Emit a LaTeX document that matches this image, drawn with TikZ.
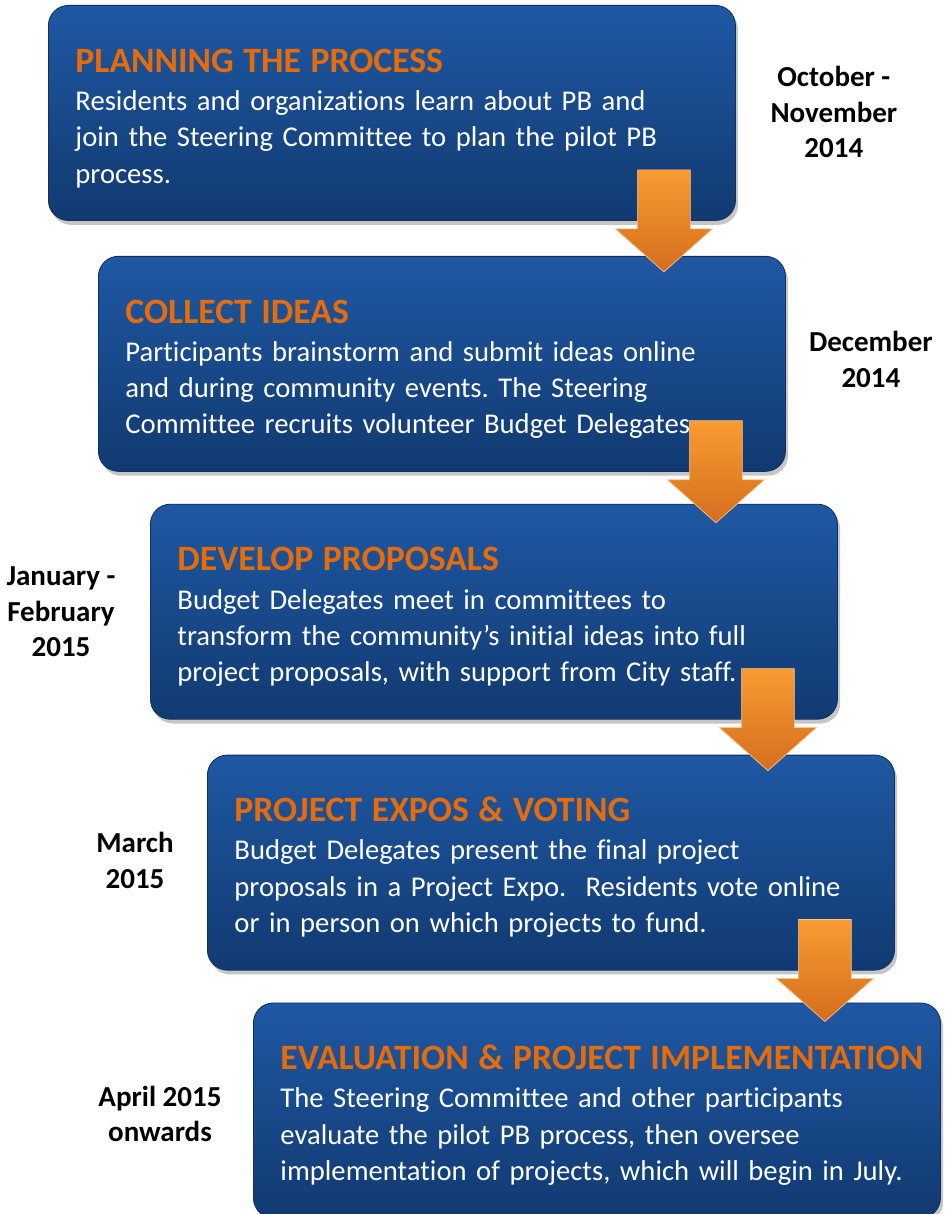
\documentclass[tikz,border=0pt]{standalone}
\usepackage{fontspec}
\setmainfont{Carlito}[RawFeature={-liga;-clig;-calt}]
\usetikzlibrary{positioning,shadows,calc}

\definecolor{stagetop}{HTML}{1F58A3}
\definecolor{stagebot}{HTML}{113A71}
\definecolor{headorange}{HTML}{E46C0A}
\definecolor{arrowtop}{HTML}{F99B33}
\definecolor{arrowbot}{HTML}{D46E1D}

\newcommand{\stagehead}[1]{\rule{0pt}{19.5pt}\mbox{\color{headorange}\bfseries\fontsize{20.3}{24}\selectfont #1}}
\frenchspacing

\begin{document}
\begin{tikzpicture}[
    stage/.style = {rectangle, rounded corners=0.4cm, top color=stagetop, bottom color=stagebot,
                    draw=stagebot!85!black, line width=0.5pt,
                    drop shadow={opacity=0.45, shadow xshift=1.5pt, shadow yshift=-2.5pt},
                    minimum width=13.74cm, minimum height=4.3cm, text width=12.66cm,
                    inner xsep=0.54cm, align=left, text=white,
                    font=\fontsize{16.3}{20.7}\selectfont},
    when/.style = {align=center, font=\bfseries\fontsize{16.5}{20.4}\selectfont},
    down/.style = {top color=arrowtop, bottom color=arrowbot, draw=arrowtop!60!white, line width=0.4pt}
  ]
  \useasboundingbox (0,0) rectangle (18.9,-24.28);

  %The five stages, each one step down and to the right
  \node[stage, anchor=north west] (p1) at (0.96,-0.10)
    {\stagehead{PLANNING THE PROCESS}\\[1pt]
     Residents and organizations learn about PB and\\
     join the Steering Committee to plan the pilot PB\\
     process.};
  \node[stage] (p2) [below=0.70cm of p1.south, xshift=1.00cm]
    {\stagehead{COLLECT IDEAS}\\[1pt]
     Participants brainstorm and submit ideas online\\
     and during community events. The Steering\\
     Committee recruits volunteer Budget Delegates.};
  \node[stage] (p3) [below=0.64cm of p2.south, xshift=1.04cm]
    {\stagehead{DEVELOP PROPOSALS}\\[1pt]
     Budget Delegates meet in committees to\\
     transform the community's initial ideas into full\\
     project proposals, with support from City staff.};
  \node[stage] (p4) [below=0.70cm of p3.south, xshift=1.14cm]
    {\stagehead{PROJECT EXPOS \& VOTING}\\[1pt]
     Budget Delegates present the final project\\
     proposals in a Project Expo.~ Residents vote online\\
     or in person on which projects to fund.};
  \node[stage] (p5) [below=0.64cm of p4.south, xshift=0.92cm]
    {\stagehead{EVALUATION \& PROJECT IMPLEMENTATION}\\[1pt]
     The Steering Committee and other participants\\
     evaluate the pilot PB process, then oversee\\
     implementation of projects, which will begin in July.};

  %Dates beside each stage
  \node[when] (d1) at ($(p1.east)+(1.96,0.02)$) {October -\\November\\2014};
  \node[when] (d2) at ($(p2.east)+(1.70,0.08)$) {December\\2014};
  \node[when] (d3) at ($(p3.west)+(-1.78,0)$) {January -\\February\\2015};
  \node[when] (d4) at ($(p4.west)+(-1.44,0.04)$) {March\\2015};
  \node[when] (d5) at ($(p5.west)+(-1.86,-0.07)$) {April 2015\\onwards};

  %Block arrows from one stage to the next
  \path[down] ($(p1.south east)+(-1.97,1.02)$) -- ++(1.06,0) -- ++(0,-1.18) -- ++(0.44,0)
    -- ++(-0.97,-0.86) -- ++(-0.97,0.86) -- ++(0.44,0) -- cycle; %p1 -> p2
  \path[down] ($(p2.south east)+(-1.93,1.02)$) -- ++(1.06,0) -- ++(0,-1.18) -- ++(0.44,0)
    -- ++(-0.97,-0.86) -- ++(-0.97,0.86) -- ++(0.44,0) -- cycle; %p2 -> p3
  \path[down] ($(p3.south east)+(-1.93,1.02)$) -- ++(1.06,0) -- ++(0,-1.18) -- ++(0.44,0)
    -- ++(-0.97,-0.86) -- ++(-0.97,0.86) -- ++(0.44,0) -- cycle; %p3 -> p4
  \path[down] ($(p4.south east)+(-1.93,1.02)$) -- ++(1.06,0) -- ++(0,-1.18) -- ++(0.44,0)
    -- ++(-0.97,-0.86) -- ++(-0.97,0.86) -- ++(0.44,0) -- cycle; %p4 -> p5
\end{tikzpicture}
\end{document}
